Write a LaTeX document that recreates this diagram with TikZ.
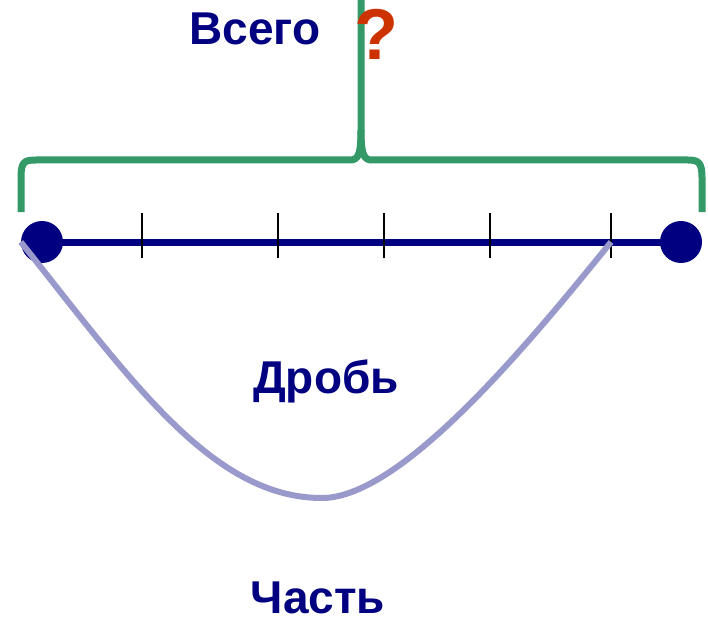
\documentclass[tikz,border=0pt]{standalone}
\usepackage{fontspec}
\setmainfont{Liberation Sans}
\definecolor{navy}{HTML}{000080}
\definecolor{bracegreen}{HTML}{339966}
\definecolor{partlilac}{HTML}{9999CC}
\definecolor{askred}{HTML}{CC3300}
\begin{document}
\begin{tikzpicture}[
  x=1pt, y=-1pt,
  word/.style={font=\bfseries\fontsize{46}{50}\selectfont, text=navy, inner sep=0pt, anchor=base},
  dot/.style={circle, fill=navy, minimum size=42pt, inner sep=0pt},
  tickmark/.style={draw=black, line width=1.6pt}
]
\useasboundingbox (0,0) rectangle (708,620);
% number line
\node[dot] (left) at (42,242) {};
\node[dot] (right) at (681,242) {};
\draw[navy, line width=7pt] (left.center) -- (right.center);
\foreach \x [count=\i] in {142,278,384,490,611} {
  \coordinate (t\i) at (\x,242);
  \draw[tickmark] (\x,213) -- (\x,258);
}
% part of the whole
\draw[partlilac, line width=6pt] (left.west) .. controls (131,380) and (212,498) .. (322,498)
  .. controls (402,498) and (530,342) .. (t5);
% brace over the whole
\draw[bracegreen, line width=7pt, line join=round]
  (21,212) -- (21,178) .. controls (21,162) and (24,160) .. (36,160) -- (350,160)
  .. controls (358,160) and (361,155) .. (361,130) -- (361,0);
\draw[bracegreen, line width=7pt, line join=round]
  (361,130) .. controls (361,155) and (364,160) .. (372,160) -- (688,160)
  .. controls (699,160) and (702,163) .. (702,178) -- (702,212);
% labels
\node[word] (whole) at (255,45) {Всего};
\node[font=\bfseries\fontsize{72}{76}\selectfont, text=askred, inner sep=0pt, anchor=base] (ask) at (376,60) {?};
\node[word] (fraction) at (326,393) {Дробь};
\node[word] (part) at (318,613) {Часть};
\end{tikzpicture}
\end{document}
